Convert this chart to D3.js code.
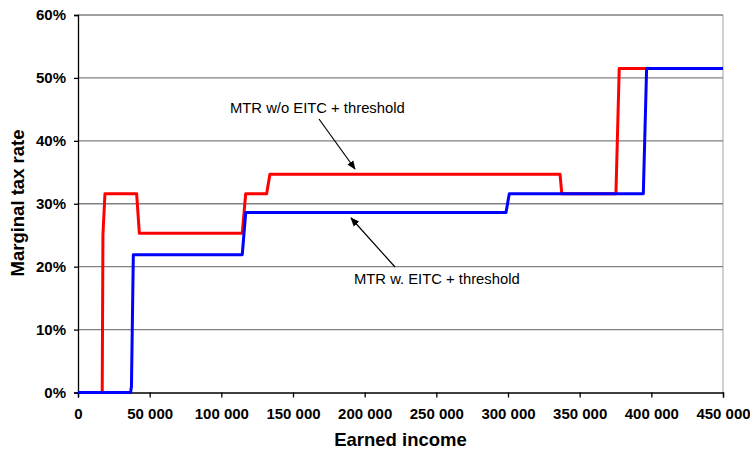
<!DOCTYPE html>
<html><head><meta charset="utf-8">
<script src="https://cdn.jsdelivr.net/npm/d3@7"></script>
<style>body{margin:0;background:#fff;}svg{display:block;font-family:"Liberation Sans",Arial,sans-serif;}</style>
</head><body>
<svg id="c" width="750" height="453"></svg>
<script>
// Data: [earned income, marginal tax rate]
const incomeNoEitc = [0, 16900, 17400, 18800, 40900, 42800, 114600, 117000, 131600, 133900, 336300, 337500, 375300, 377600, 450000];
const rateNoEitc   = [0, 0, 0.25, 0.316, 0.316, 0.253, 0.253, 0.316, 0.316, 0.347, 0.347, 0.316, 0.316, 0.515, 0.515];
const incomeEitc = [0, 36700, 37300, 38600, 114600, 117000, 298600, 300900, 394400, 396700, 450000];
const rateEitc   = [0, 0, 0.01, 0.219, 0.219, 0.286, 0.286, 0.316, 0.316, 0.515, 0.515];
const xTicks = [0, 50000, 100000, 150000, 200000, 250000, 300000, 350000, 400000, 450000];
const yTicks = [0, 0.1, 0.2, 0.3, 0.4, 0.5, 0.6];
const labelNoEitc = "MTR w/o EITC + threshold";
const labelEitc = "MTR w. EITC + threshold";

const svg = d3.select("#c");
const L = 78, R = 723, T = 15, B = 392.5;
const x = d3.scaleLinear().domain([0, 450000]).range([L, R]);
const y = d3.scaleLinear().domain([0, 0.6]).range([B, T]);
const fmtX = v => v === 0 ? "0" : d3.format(",")(v).replace(/,/g, " ");

// right border
svg.append("line").attr("x1", R).attr("x2", R).attr("y1", T).attr("y2", B)
  .attr("stroke", "#c0c0c0").attr("stroke-width", 1.5);
// gridlines
svg.append("g").selectAll("line").data(yTicks.filter(d => d > 0)).join("line")
  .attr("x1", L).attr("x2", R).attr("y1", d => y(d)).attr("y2", d => y(d))
  .attr("stroke", "#808080").attr("stroke-width", 1.3);

// y axis
const ya = svg.append("g").attr("transform", `translate(${L},0)`)
  .call(d3.axisLeft(y).tickValues(yTicks).tickFormat(d3.format(".0%")).tickSize(4).tickPadding(8));
ya.select(".domain").attr("stroke", "#000").attr("stroke-width", 1.3);
ya.selectAll(".tick line").attr("stroke", "#000").attr("stroke-width", 1.3);
ya.selectAll("text").attr("font-size", 15).attr("font-weight", "bold").attr("fill", "#000")
  .attr("font-family", "Liberation Sans, Arial, sans-serif");

// x axis
const xa = svg.append("g").attr("transform", `translate(0,${B})`)
  .call(d3.axisBottom(x).tickValues(xTicks).tickFormat(fmtX).tickSize(5).tickPadding(11));
xa.select(".domain").attr("stroke", "#000").attr("stroke-width", 1.3);
xa.selectAll(".tick line").attr("stroke", "#000").attr("stroke-width", 1.3);
xa.selectAll("text").attr("font-size", 15).attr("font-weight", "bold").attr("fill", "#000")
  .attr("font-family", "Liberation Sans, Arial, sans-serif");

// axis titles
svg.append("text").attr("x", (L + R) / 2).attr("y", 446).attr("text-anchor", "middle")
  .attr("font-size", 18.5).attr("font-weight", "bold").text("Earned income");
svg.append("text").attr("transform", `translate(24,203) rotate(-90)`)
  .attr("text-anchor", "middle").attr("font-size", 18.5).attr("font-weight", "bold").text("Marginal tax rate");

// lines
const line = d3.line().x(d => x(d[0])).y(d => y(d[1]));
const s1 = incomeNoEitc.map((v, i) => [v, rateNoEitc[i]]);
const s2 = incomeEitc.map((v, i) => [v, rateEitc[i]]);
svg.append("path").datum(s1).attr("d", line).attr("fill", "none").attr("stroke", "#ff0000")
  .attr("stroke-width", 3).attr("stroke-linejoin", "round");
svg.append("path").datum(s2).attr("d", line).attr("fill", "none").attr("stroke", "#0000ff")
  .attr("stroke-width", 3).attr("stroke-linejoin", "round");

// annotations
svg.append("defs").append("marker").attr("id", "ah").attr("viewBox", "0 0 10 10")
  .attr("refX", 9).attr("refY", 5).attr("markerWidth", 9).attr("markerHeight", 9)
  .attr("orient", "auto").attr("markerUnits", "userSpaceOnUse")
  .append("path").attr("d", "M0,1 L10,5 L0,9 Z").attr("fill", "#000");
svg.append("text").attr("x", 230).attr("y", 113).attr("font-size", 14.8).text(labelNoEitc);
svg.append("line").attr("x1", 319).attr("y1", 119).attr("x2", 355).attr("y2", 169)
  .attr("stroke", "#000").attr("stroke-width", 1.2).attr("marker-end", "url(#ah)");
svg.append("text").attr("x", 354).attr("y", 284).attr("font-size", 14.8).text(labelEitc);
svg.append("line").attr("x1", 395).attr("y1", 267).attr("x2", 351).attr("y2", 218)
  .attr("stroke", "#000").attr("stroke-width", 1.2).attr("marker-end", "url(#ah)");
</script>
</body></html>
